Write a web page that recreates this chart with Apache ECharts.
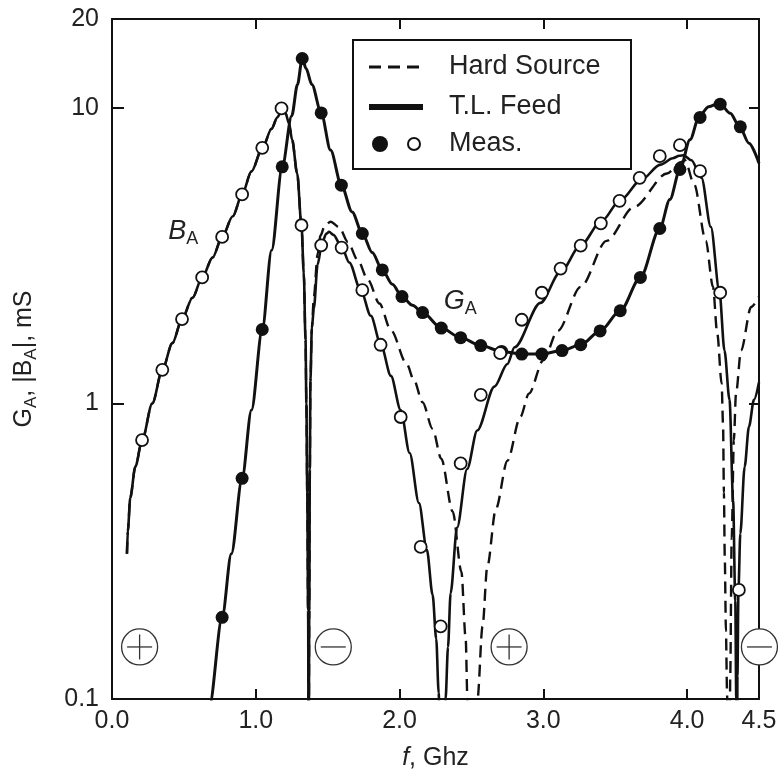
<!DOCTYPE html>
<html>
<head>
<meta charset="utf-8">
<script src="https://cdn.jsdelivr.net/npm/echarts/dist/echarts.min.js"></script>
<style>
html,body{margin:0;padding:0;background:#fff;}
#chart{width:782px;height:773px;}
</style>
</head>
<body>
<div id="chart"></div>
<script>
// ---- data ----
// B_A, T.L. Feed (solid)
const baTLx = [0.104,0.11,0.127,0.162,0.209,0.28,0.35,0.42,0.487,0.56,0.627,0.70,0.766,0.84,0.905,0.97,1.045,1.11,1.15,1.18,1.207,1.23,1.253,1.288,1.318,1.334,1.346,1.352,1.358,1.364,1.368,
  1.372,1.376,1.38,1.39,1.404,1.43,1.46,1.49,1.51,1.54,1.597,1.65,1.73,1.80,1.87,1.94,2.008,2.07,2.135,2.19,2.23,2.255,2.272,2.284,2.295,
  2.305,2.32,2.337,2.355,2.40,2.47,2.54,2.66,2.75,2.80,2.98,3.12,3.26,3.40,3.54,3.68,3.815,3.90,3.946,3.975,4.03,4.10,4.165,4.225,4.26,4.295,4.32,4.335,4.342,4.346,
  4.35,4.357,4.37,4.40,4.43,4.465,4.5];
const baTLy = [0.31,0.37,0.48,0.61,0.75,1.0,1.30,1.60,1.93,2.28,2.67,3.12,3.66,4.3,5.1,6.1,7.3,8.5,9.3,9.8,9.6,8.9,7.8,6.0,4.0,2.75,1.64,1.0,0.5,0.2,0.05,
  0.2,0.6,1.19,1.8,2.1,2.95,3.48,3.75,3.81,3.72,3.39,3.0,2.42,1.98,1.58,1.24,0.95,0.68,0.46,0.32,0.225,0.16,0.105,0.06,0.02,
  0.06,0.1,0.15,0.228,0.38,0.60,0.81,1.14,1.36,1.55,2.19,2.79,3.43,4.12,4.90,5.71,6.43,6.76,6.89,6.92,6.65,5.8,3.96,2.39,1.51,1.03,0.47,0.215,0.1,0.03,
  0.12,0.234,0.363,0.61,0.834,1.03,1.18];

// B_A, Hard Source (dashed)
const baHSx = [0.104,0.11,0.127,0.162,0.209,0.28,0.35,0.42,0.487,0.56,0.627,0.70,0.766,0.84,0.905,0.97,1.045,1.11,1.15,1.18,1.207,1.23,1.253,1.288,1.318,1.334,1.346,1.352,1.358,1.364,1.368,
  1.372,1.376,1.38,1.39,1.404,1.43,1.45,1.48,1.52,1.58,1.64,1.71,1.78,1.86,1.94,2.05,2.10,2.16,2.23,2.29,2.37,2.43,2.46,2.472,2.49,2.507,2.525,2.542,2.577,2.61,2.67,2.75,2.84,2.90,3.0,3.10,3.26,3.44,3.63,3.86,3.955,3.985,4.05,4.13,4.18,4.21,4.24,4.25,4.256,4.262,4.27,4.278,4.286,4.294,4.30,4.31,4.325,4.34,4.375,4.445,4.5];
const baHSy = [0.31,0.37,0.48,0.61,0.75,1.0,1.30,1.60,1.93,2.28,2.67,3.12,3.66,4.3,5.1,6.1,7.3,8.5,9.3,9.8,9.6,8.9,7.8,6.0,4.0,2.75,1.64,1.0,0.5,0.2,0.05,
  0.2,0.6,1.19,1.8,2.3,3.2,3.7,4.0,4.12,3.95,3.52,3.05,2.62,2.18,1.77,1.36,1.20,1.01,0.82,0.65,0.43,0.27,0.16,0.1,0.05,0.02,0.05,0.1,0.176,0.28,0.44,0.64,0.90,1.08,1.40,1.76,2.48,3.55,4.62,6.0,6.55,6.65,5.5,3.55,2.48,1.72,1.17,0.85,0.5,0.3,0.17,0.104,0.04,0.04,0.12,0.35,0.75,1.08,1.51,2.12,2.3];

// G_A, T.L. Feed (solid)
const gaTLx = [0.60,0.678,0.766,0.83,0.905,0.97,1.045,1.11,1.184,1.25,1.29,1.323,1.35,1.39,1.455,1.52,1.595,1.67,1.741,1.81,1.88,1.95,2.017,2.09,2.16,2.29,2.425,2.565,2.71,2.85,2.99,3.13,3.26,3.395,3.535,3.675,3.81,3.88,3.95,4.02,4.085,4.15,4.224,4.30,4.364,4.43,4.5];
const gaTLy = [0.055,0.095,0.189,0.31,0.558,0.95,1.78,3.3,6.32,9.4,12.0,14.7,13.6,12.0,9.62,7.2,5.48,4.45,3.76,3.24,2.83,2.53,2.30,2.15,2.03,1.80,1.67,1.57,1.50,1.47,1.47,1.51,1.58,1.76,2.06,2.67,3.91,4.9,6.19,7.8,9.4,10.1,10.4,9.6,8.66,7.6,6.5];

// Measured G_A (filled) and |B_A| (open)
const gaMeasX = [0.766,0.905,1.045,1.184,1.323,1.455,1.595,1.741,1.88,2.017,2.16,2.29,2.425,2.565,2.71,2.85,2.99,3.13,3.26,3.395,3.535,3.675,3.81,3.95,4.09,4.23,4.37];
const gaMeasY = [0.189,0.558,1.78,6.32,14.7,9.62,5.48,3.76,2.83,2.30,2.03,1.80,1.67,1.57,1.50,1.47,1.47,1.51,1.58,1.76,2.06,2.67,3.91,6.19,9.29,10.3,8.63];
const baMeasX = [0.209,0.35,0.487,0.627,0.766,0.905,1.045,1.179,1.318,1.455,1.597,1.741,1.868,2.008,2.147,2.286,2.425,2.565,2.70,2.85,2.99,3.12,3.26,3.40,3.53,3.67,3.81,3.95,4.09,4.23,4.36];
const baMeasY = [0.752,1.30,1.93,2.67,3.66,5.10,7.33,9.96,4.01,3.43,3.37,2.42,1.58,0.90,0.327,0.176,0.627,1.07,1.48,1.92,2.37,2.86,3.42,4.07,4.85,5.80,6.87,7.48,6.11,2.37,0.234];

// sign markers of B_A (+ / -)
const signX = [0.192,1.539,2.762,4.503];
const signY = [0.15,0.15,0.15,0.15];
const signS = [1,-1,1,-1];

// curve labels
const labelNames = ['B','G'];
const labelX = [0.392,2.307];
const labelY = [3.77,2.19];

// axis
const xMin = 0, xMax = 4.5, xStep = 1;
const yMin = 0.1, yMax = 20;

// ---- chart ----
const FONT = '"Liberation Sans", Arial, Helvetica, sans-serif';
const TXT = '#222';
const INK = '#111';
const zip = (a, b) => a.map((v, i) => [v, b[i]]);

const chart = echarts.init(document.getElementById('chart'), null, {renderer: 'canvas'});

const subRich = {
  i: {fontFamily: FONT, fontSize: 27, fontStyle: 'italic', color: TXT, verticalAlign: 'top', lineHeight: 30},
  s: {fontFamily: FONT, fontSize: 18, color: TXT, verticalAlign: 'bottom', lineHeight: 18, padding: [16, 0, 0, 0]}
};

const axisLineStyle = {color: INK, width: 2};
const tickStyle = {color: INK, width: 2};

const option = {
  animation: false,
  backgroundColor: '#fff',
  grid: {left: 112, right: 23, top: 19, bottom: 74, containLabel: false, outerBoundsMode: 'none'},
  xAxis: [
    {
      type: 'value', min: xMin, max: xMax, interval: xStep, position: 'bottom',
      axisLine: {show: true, onZero: false, lineStyle: axisLineStyle},
      axisTick: {show: true, inside: true, length: 10, lineStyle: tickStyle},
      splitLine: {show: false},
      axisLabel: {show: true, fontFamily: FONT, fontSize: 25, color: TXT, margin: 10,
        showMinLabel: true, showMaxLabel: true, formatter: v => Number(v).toFixed(1)},
      name: '{i|f}{n|, Ghz}', nameLocation: 'middle', nameGap: 47,
      nameTextStyle: {rich: {
        i: {fontFamily: FONT, fontSize: 25, fontStyle: 'italic', color: TXT},
        n: {fontFamily: FONT, fontSize: 25, color: TXT}
      }}
    },
    {
      type: 'value', min: xMin, max: xMax, interval: xStep, position: 'top',
      axisLine: {show: true, onZero: false, lineStyle: axisLineStyle},
      axisTick: {show: true, inside: true, length: 10, lineStyle: tickStyle},
      splitLine: {show: false}, axisLabel: {show: false}
    }
  ],
  yAxis: [
    {
      type: 'log', logBase: 10, min: yMin, max: yMax, position: 'left',
      axisLine: {show: true, onZero: false, lineStyle: axisLineStyle},
      axisTick: {show: true, inside: true, length: 12, lineStyle: tickStyle},
      minorTick: {show: false}, splitLine: {show: false},
      axisLabel: {show: true, fontFamily: FONT, fontSize: 25, color: TXT, margin: 13,
        showMinLabel: true, showMaxLabel: true, formatter: v => String(parseFloat(Number(v).toPrecision(4)))},
      name: '{n|G}{s|A}{n|, |B}{s|A}{n||, mS}', nameLocation: 'middle', nameRotate: 90, nameGap: 72,
      nameTextStyle: {rich: {
        n: {fontFamily: FONT, fontSize: 25, color: TXT, verticalAlign: 'top', lineHeight: 28},
        s: {fontFamily: FONT, fontSize: 17, color: TXT, verticalAlign: 'bottom', lineHeight: 17, padding: [15, 0, 0, 0]}
      }}
    },
    {
      type: 'log', logBase: 10, min: yMin, max: yMax, position: 'right',
      axisLine: {show: true, onZero: false, lineStyle: axisLineStyle},
      axisTick: {show: true, inside: true, length: 10, lineStyle: tickStyle},
      minorTick: {show: false}, splitLine: {show: false}, axisLabel: {show: false}
    }
  ],
  series: [
    {
      name: 'Hard Source B', type: 'line', data: zip(baHSx, baHSy), showSymbol: false, symbol: 'none',
      smooth: 0.3, smoothMonotone: 'x', clip: true, z: 2,
      lineStyle: {color: INK, width: 2.4, type: [12, 7], opacity: 1}
    },
    {
      name: 'T.L. Feed B', type: 'line', data: zip(baTLx, baTLy), showSymbol: false, symbol: 'none',
      smooth: 0.3, smoothMonotone: 'x', clip: true, z: 3,
      lineStyle: {color: INK, width: 2.6, opacity: 1}
    },
    {
      name: 'T.L. Feed G', type: 'line', data: zip(gaTLx, gaTLy), showSymbol: false, symbol: 'none',
      smooth: 0.3, smoothMonotone: 'x', clip: true, z: 3,
      lineStyle: {color: INK, width: 3, opacity: 1}
    },
    {
      name: 'Meas. G', type: 'scatter', data: zip(gaMeasX, gaMeasY), symbol: 'circle', symbolSize: 13, z: 4,
      itemStyle: {color: INK, opacity: 1}
    },
    {
      name: 'Meas. B', type: 'scatter', data: zip(baMeasX, baMeasY), symbol: 'circle', symbolSize: 12, z: 5,
      itemStyle: {color: '#fff', borderColor: INK, borderWidth: 1.8, opacity: 1}
    },
    {
      name: 'labels', type: 'scatter', symbolSize: 0, z: 6, silent: true,
      itemStyle: {opacity: 1},
      data: labelX.map((x, i) => ({value: [x, labelY[i]], name: labelNames[i]})),
      label: {show: true, position: 'right', distance: 0, color: TXT, opacity: 1,
        formatter: p => '{i|' + p.name + '}{s|A}', rich: subRich}
    },
    {
      name: 'signs', type: 'custom', clip: false, z: 10, silent: true,
      data: signX.map((x, i) => [x, signY[i], signS[i]]),
      renderItem: (params, api) => {
        const c = api.coord([api.value(0), api.value(1)]);
        const r = 18, h = 12.5;
        const st = {stroke: '#333', lineWidth: 1.3, fill: null};
        const kids = [
          {type: 'circle', shape: {cx: c[0], cy: c[1], r: r}, style: {fill: '#fff', stroke: '#333', lineWidth: 1.3}},
          {type: 'line', shape: {x1: c[0] - h, y1: c[1], x2: c[0] + h, y2: c[1]}, style: st}
        ];
        if (api.value(2) > 0) {
          kids.push({type: 'line', shape: {x1: c[0], y1: c[1] - h, x2: c[0], y2: c[1] + h}, style: st});
        }
        return {type: 'group', children: kids};
      }
    }
  ],
  graphic: [
    {
      type: 'group', left: 352, top: 39, z: 20,
      children: [
        {type: 'rect', shape: {x: 0, y: 0, width: 278, height: 129}, style: {fill: '#fff', stroke: INK, lineWidth: 2}},
        {type: 'line', shape: {x1: 16, y1: 27, x2: 70, y2: 27}, style: {stroke: INK, lineWidth: 3, lineDash: [12, 7]}},
        {type: 'line', shape: {x1: 16, y1: 67, x2: 70, y2: 67}, style: {stroke: INK, lineWidth: 6}},
        {type: 'circle', shape: {cx: 27, cy: 104, r: 8}, style: {fill: INK}},
        {type: 'circle', shape: {cx: 61, cy: 104, r: 6}, style: {fill: '#fff', stroke: INK, lineWidth: 2}},
        {type: 'text', x: 96, y: 27, style: {text: 'Hard Source', font: '27px ' + FONT, fill: TXT, verticalAlign: 'middle'}},
        {type: 'text', x: 96, y: 67, style: {text: 'T.L. Feed', font: '27px ' + FONT, fill: TXT, verticalAlign: 'middle'}},
        {type: 'text', x: 96, y: 104, style: {text: 'Meas.', font: '27px ' + FONT, fill: TXT, verticalAlign: 'middle'}}
      ]
    }
  ]
};
chart.setOption(option);
</script>
</body>
</html>
